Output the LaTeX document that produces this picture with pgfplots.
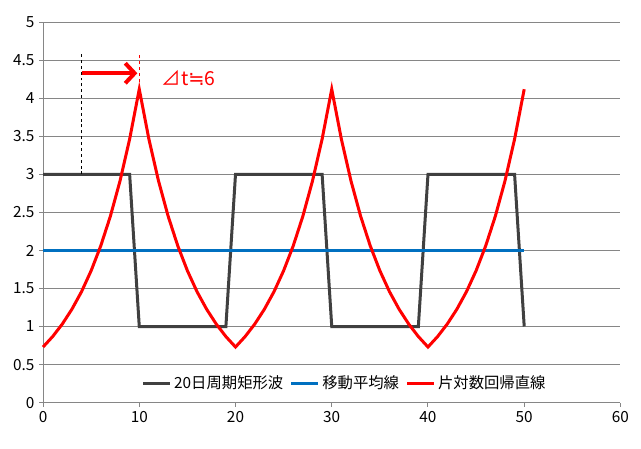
\documentclass[border=0pt]{standalone}
\usepackage{fontspec}
\setmainfont{Noto Sans CJK JP}
\newfontfamily\djv{DejaVu Sans}
\usepackage{pgfplots}
\pgfplotsset{compat=1.18}
\usetikzlibrary{arrows.meta}
\definecolor{gridgray}{HTML}{868686}
\definecolor{sqcol}{HTML}{404040}
\definecolor{macol}{HTML}{0070C0}
\definecolor{recol}{HTML}{FF0000}
\begin{document}
\begin{tikzpicture}
\begin{axis}[
  scale only axis,
  width=432.75pt, height=285pt,
  xmin=0, xmax=60, ymin=0, ymax=5,
  xtick={0,10,...,60},
  ytick={0,0.5,...,5},
  axis x line*=bottom, axis y line*=left,
  axis line style={gridgray, line width=0.75pt, -},
  tick style={gridgray, line width=0.75pt},
  tick align=outside,
  major tick length=3pt,
  ymajorgrids,
  grid style={gridgray, line width=0.75pt},
  /pgf/number format/assume math mode=true,
  ticklabel style={font=\fontsize{11.5pt}{13pt}\selectfont, text=black},
  yticklabel style={/pgf/number format/fixed},
  clip=false,
  legend columns=3,
  legend style={at={(rel axis cs:0.523,0.051)}, anchor=center, draw=none, fill=none,
    font=\fontsize{11.5pt}{13pt}\selectfont, /tikz/every even column/.append style={column sep=3pt},
    inner sep=0pt},
  legend image code/.code={\draw[#1] (0pt,0pt) -- (20pt,0pt);},
]
\addplot[sqcol, line width=2.25pt] coordinates {
(0,3)(1,3)(2,3)(3,3)(4,3)(5,3)(6,3)(7,3)(8,3)(9,3)
(10,1)(11,1)(12,1)(13,1)(14,1)(15,1)(16,1)(17,1)(18,1)(19,1)
(20,3)(21,3)(22,3)(23,3)(24,3)(25,3)(26,3)(27,3)(28,3)(29,3)
(30,1)(31,1)(32,1)(33,1)(34,1)(35,1)(36,1)(37,1)(38,1)(39,1)
(40,3)(41,3)(42,3)(43,3)(44,3)(45,3)(46,3)(47,3)(48,3)(49,3)
(50,1)};
\addlegendentry{20日周期矩形波}
\addplot[macol, line width=2.25pt] coordinates {(0,2)(10,2)(20,2)(30,2)(40,2)(50,2)};
\addlegendentry{移動平均線}
\addplot[recol, line width=2.25pt] coordinates {
(0,0.730)(1,0.868)(2,1.032)(3,1.227)(4,1.458)(5,1.734)(6,2.061)(7,2.451)(8,2.914)(9,3.464)
(10,4.120)(11,3.464)(12,2.914)(13,2.451)(14,2.061)(15,1.734)(16,1.458)(17,1.227)(18,1.032)(19,0.868)
(20,0.730)(21,0.868)(22,1.032)(23,1.227)(24,1.458)(25,1.734)(26,2.061)(27,2.451)(28,2.914)(29,3.464)
(30,4.120)(31,3.464)(32,2.914)(33,2.451)(34,2.061)(35,1.734)(36,1.458)(37,1.227)(38,1.032)(39,0.868)
(40,0.730)(41,0.868)(42,1.032)(43,1.227)(44,1.458)(45,1.734)(46,2.061)(47,2.451)(48,2.914)(49,3.464)
(50,4.120)};
\addlegendentry{片対数回帰直線}
\draw[black, line width=0.6pt, dash pattern=on 2.2pt off 2.2pt] (axis cs:4,3) -- (axis cs:4,4.62);
\draw[recol, line width=0.6pt, dash pattern=on 2.2pt off 2.2pt] (axis cs:10,4.14) -- (axis cs:10,4.57);
\draw[recol, line width=3pt, -{Straight Barb[length=7pt,width=15pt,line width=3pt]}] (axis cs:4,4.33) -- (axis cs:9.8,4.33);
\node[anchor=west, text=recol, font=\fontsize{14.5pt}{16pt}\selectfont, inner sep=0pt] at (axis cs:12.3,4.27) {⊿t{\djv ≒}6};
\end{axis}
\path ([shift={(-32.25pt,-34.3pt)}]current axis.south west) rectangle ([shift={(15.4pt,16.7pt)}]current axis.north east);
\end{tikzpicture}
\end{document}
